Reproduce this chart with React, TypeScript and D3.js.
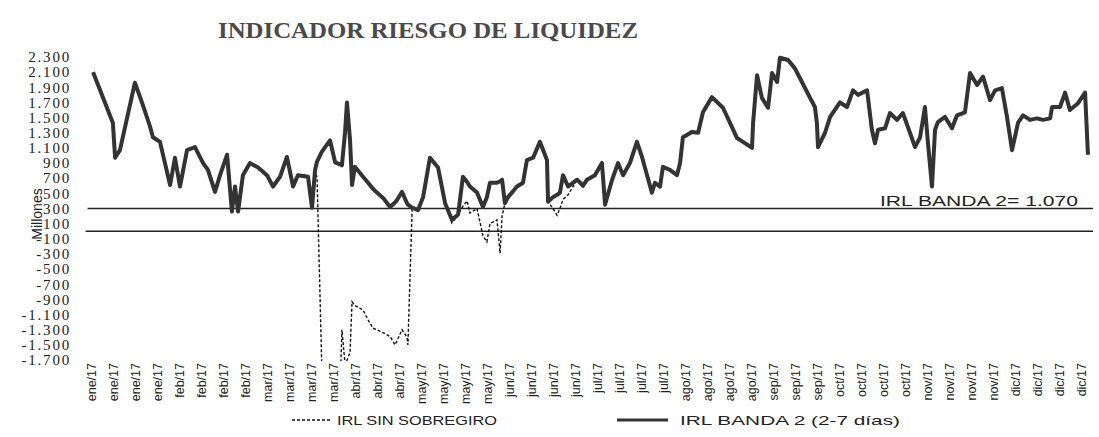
import * as d3 from 'd3';

// etiquetas semanales del eje x
const etiquetas = [
  'ene/17', 'ene/17', 'ene/17', 'ene/17',
  'feb/17', 'feb/17', 'feb/17', 'feb/17',
  'mar/17', 'mar/17', 'mar/17', 'mar/17',
  'abr/17', 'abr/17', 'abr/17',
  'may/17', 'may/17', 'may/17', 'may/17',
  'jun/17', 'jun/17', 'jun/17', 'jun/17',
  'jul/17', 'jul/17', 'jul/17', 'jul/17',
  'ago/17', 'ago/17', 'ago/17', 'ago/17',
  'sep/17', 'sep/17', 'sep/17',
  'oct/17', 'oct/17', 'oct/17', 'oct/17',
  'nov/17', 'nov/17', 'nov/17', 'nov/17',
  'dic/17', 'dic/17', 'dic/17', 'dic/17',
];

const yTicks = [2300, 2100, 1900, 1700, 1500, 1300, 1100, 900, 700, 500, 300, 100, -100,
  -300, -500, -700, -900, -1100, -1300, -1500, -1700];

// posición en semanas (índice de etiqueta) de cada observación
const semana = [
  0.05, 0.95, 1.05, 1.27, 1.95, 2.27, 2.64, 2.77, 3.09, 3.55,
  3.77, 4.0, 4.32, 4.68, 5.05, 5.27, 5.59, 5.82, 6.14, 6.36,
  6.5, 6.64, 6.86, 7.18, 7.55, 7.95, 8.23, 8.55, 8.86, 9.14,
  9.36, 9.82, 10.0, 10.14, 10.23, 10.45, 10.82, 11.05, 11.3, 11.36,
  11.5, 11.59, 11.73, 11.82, 11.95, 12.32, 12.55, 12.77, 12.95, 13.23,
  13.55, 13.77, 13.86, 14.09, 14.32, 14.36, 14.55, 14.82, 15.05, 15.36,
  15.73, 16.05, 16.36, 16.64, 16.86, 17.05, 17.18, 17.5, 17.77, 17.95,
  18.09, 18.41, 18.55, 18.64, 18.77, 18.91, 19.32, 19.59, 19.77, 20.05,
  20.36, 20.68, 20.73, 20.95, 21.14, 21.27, 21.41, 21.64, 22.05, 22.32,
  22.5, 22.86, 23.18, 23.32, 23.64, 23.91, 24.14, 24.45, 24.77, 25.0,
  25.23, 25.45, 25.59, 25.82, 25.95, 26.27, 26.59, 26.73, 26.86, 27.27,
  27.55, 27.77, 28.18, 28.68, 29.0, 29.32, 29.59, 30.0, 30.05, 30.23,
  30.45, 30.73, 30.91, 31.14, 31.27, 31.64, 31.95, 32.27, 32.64, 32.86,
  32.95, 33.0, 33.32, 33.55, 34.0, 34.32, 34.59, 34.82, 35.23, 35.45,
  35.59, 35.73, 36.05, 36.27, 36.59, 36.86, 37.18, 37.41, 37.64, 37.86,
  38.0, 38.18, 38.32, 38.45, 38.77, 39.09, 39.32, 39.68, 39.91, 40.23,
  40.5, 40.82, 41.05, 41.36, 41.59, 41.82, 42.09, 42.32, 42.64, 42.95,
  43.23, 43.55, 43.64, 44.0, 44.23, 44.45, 44.82, 45.14, 45.27,
];

// IRL BANDA 2 (2-7 días), millones
const irlBanda2 = [
  2100, 1430, 970, 1070, 1960, 1700, 1380, 1240, 1180, 610,
  970, 590, 1070, 1110, 900, 810, 520, 740, 1010, 260,
  590, 260, 740, 900, 840, 740, 590, 720, 980, 590,
  740, 720, 310, 810, 920, 1050, 1200, 910, 880, 870,
  1300, 1700, 1200, 610, 850, 720, 640, 560, 510, 440,
  320, 380, 410, 520, 370, 350, 310, 280, 450, 970,
  840, 370, 150, 220, 720, 650, 590, 510, 320, 450,
  640, 640, 660, 680, 370, 450, 590, 640, 940, 970,
  1180, 940, 390, 450, 480, 510, 740, 590, 680, 600,
  680, 740, 900, 350, 680, 900, 740, 900, 1180, 980,
  740, 510, 640, 590, 850, 810, 740, 900, 1240, 1310,
  1300, 1570, 1770, 1630, 1430, 1230, 1180, 1100, 1430, 2060,
  1760, 1630, 2090, 1970, 2290, 2260, 2150, 1970, 1760, 1640,
  1430, 1110, 1300, 1510, 1700, 1640, 1860, 1800, 1860, 1340,
  1160, 1340, 1360, 1560, 1470, 1560, 1300, 1110, 1240, 1640,
  1160, 590, 1340, 1440, 1510, 1360, 1530, 1570, 2090, 1930,
  2040, 1730, 1860, 1890, 1510, 1070, 1430, 1530, 1470, 1490,
  1470, 1490, 1640, 1640, 1830, 1600, 1690, 1830, 1010,
];

// IRL SIN SOBREGIRO, millones
const irlSinSobregiro = [
  2100, 1430, 970, 1070, 1960, 1700, 1380, 1240, 1180, 610,
  970, 590, 1070, 1110, 900, 810, 520, 740, 1010, 260,
  590, 260, 740, 900, 840, 740, 590, 720, 980, 590,
  740, 720, 310, 810, 700, -1850, -1850, -1850, -1850, -1300,
  -1750, -1700, -1600, -930, -980, -1040, -1170, -1280, -1300, -1340,
  -1390, -1500, -1450, -1300, -1400, -1500, 290, 280, 450, 970,
  840, 370, 110, 220, 330, 400, 240, 300, -60, -140,
  100, 150, -290, 200, 370, 450, 590, 640, 940, 970,
  1180, 940, 390, 300, 210, 300, 420, 480, 680, 600,
  680, 740, 900, 350, 680, 900, 740, 900, 1180, 980,
  740, 510, 640, 590, 850, 810, 740, 900, 1240, 1310,
  1300, 1570, 1770, 1630, 1430, 1230, 1180, 1100, 1430, 2060,
  1760, 1630, 2090, 1970, 2290, 2260, 2150, 1970, 1760, 1640,
  1430, 1110, 1300, 1510, 1700, 1640, 1860, 1800, 1860, 1340,
  1160, 1340, 1360, 1560, 1470, 1560, 1300, 1110, 1240, 1640,
  1160, 590, 1340, 1440, 1510, 1360, 1530, 1570, 2090, 1930,
  2040, 1730, 1860, 1890, 1510, 1070, 1430, 1530, 1470, 1490,
  1470, 1490, 1640, 1640, 1830, 1600, 1690, 1830, 1010,
];

const nivelBanda2 = 300;
const nivelCero = 0;
const textoBanda2 = 'IRL BANDA 2= 1.070';

const width = 1099;
const height = 437;

const App = () => {
  const x = d3.scaleLinear().domain([0, etiquetas.length - 1]).range([92, 1082]);
  const y = d3.scaleLinear().domain([-1700, 2300]).range([360, 57]);

  const fmt = d3.formatLocale({
    decimal: ',', thousands: '.', grouping: [3], currency: ['', ''], minus: '-',
  }).format(',d');

  const line = d3.line<number>()
    .x((_, i) => x(semana[i]))
    .y(d => y(d));

  const x0 = x(-0.2);
  const x1 = x(45.5);

  return (
    <svg width={width} height={height} style={{ position: 'absolute', left: 0, top: 0, background: '#fff' }}>
      <defs>
        <clipPath id="area">
          <rect x={80} y={45} width={1015} height={316} />
        </clipPath>
      </defs>

      <text x={428} y={38} textAnchor="middle" fontFamily="Liberation Serif" fontWeight="bold"
        fontSize={23} fill="#4a4a4a" textLength={420} lengthAdjust="spacingAndGlyphs">
        INDICADOR RIESGO DE LIQUIDEZ
      </text>

      {/* eje y */}
      {yTicks.map(t => (
        <text key={t} x={71} y={y(t)} dy="0.35em" textAnchor="end" fontFamily="Liberation Serif"
          fontSize={15} letterSpacing={1.8} fill="#222">
          {fmt(t)}
        </text>
      ))}
      <text transform="translate(42,214) rotate(-90)" textAnchor="middle" fontFamily="Liberation Sans"
        fontSize={14} fill="#222">
        Millones
      </text>

      {/* eje x */}
      {etiquetas.map((d, i) => (
        <text key={i} transform={`translate(${x(i) + 4},363) rotate(-90)`} textAnchor="end"
          fontFamily="Liberation Sans" fontSize={12.5} fill="#222">
          {d}
        </text>
      ))}

      {/* líneas de referencia */}
      <line x1={x0} x2={x1} y1={y(nivelBanda2)} y2={y(nivelBanda2)} stroke="#222" strokeWidth={1.3} />
      <line x1={x0 - 2} x2={x1} y1={y(nivelCero)} y2={y(nivelCero)} stroke="#222" strokeWidth={1.3} />
      <text x={1078} y={206} textAnchor="end" fontFamily="Liberation Sans" fontSize={15} fill="#222"
        textLength={198} lengthAdjust="spacingAndGlyphs">
        {textoBanda2}
      </text>

      <g clipPath="url(#area)">
        <path d={line(irlSinSobregiro) ?? ''} fill="none" stroke="#111" strokeWidth={1.4}
          strokeDasharray="3,2" />
        <path d={line(irlBanda2) ?? ''} fill="none" stroke="#333" strokeWidth={4}
          strokeLinejoin="round" />
      </g>

      {/* leyenda */}
      <line x1={292} x2={330} y1={420} y2={420} stroke="#111" strokeWidth={1.4} strokeDasharray="3,2" />
      <text x={337} y={425} fontFamily="Liberation Sans" fontSize={13} fill="#222"
        textLength={160} lengthAdjust="spacingAndGlyphs">
        IRL SIN SOBREGIRO
      </text>
      <line x1={617} x2={668} y1={420} y2={420} stroke="#333" strokeWidth={3} />
      <text x={680} y={425} fontFamily="Liberation Sans" fontSize={13} fill="#222"
        textLength={220} lengthAdjust="spacingAndGlyphs">
        IRL BANDA 2 (2-7 días)
      </text>
    </svg>
  );
};

export default App;
